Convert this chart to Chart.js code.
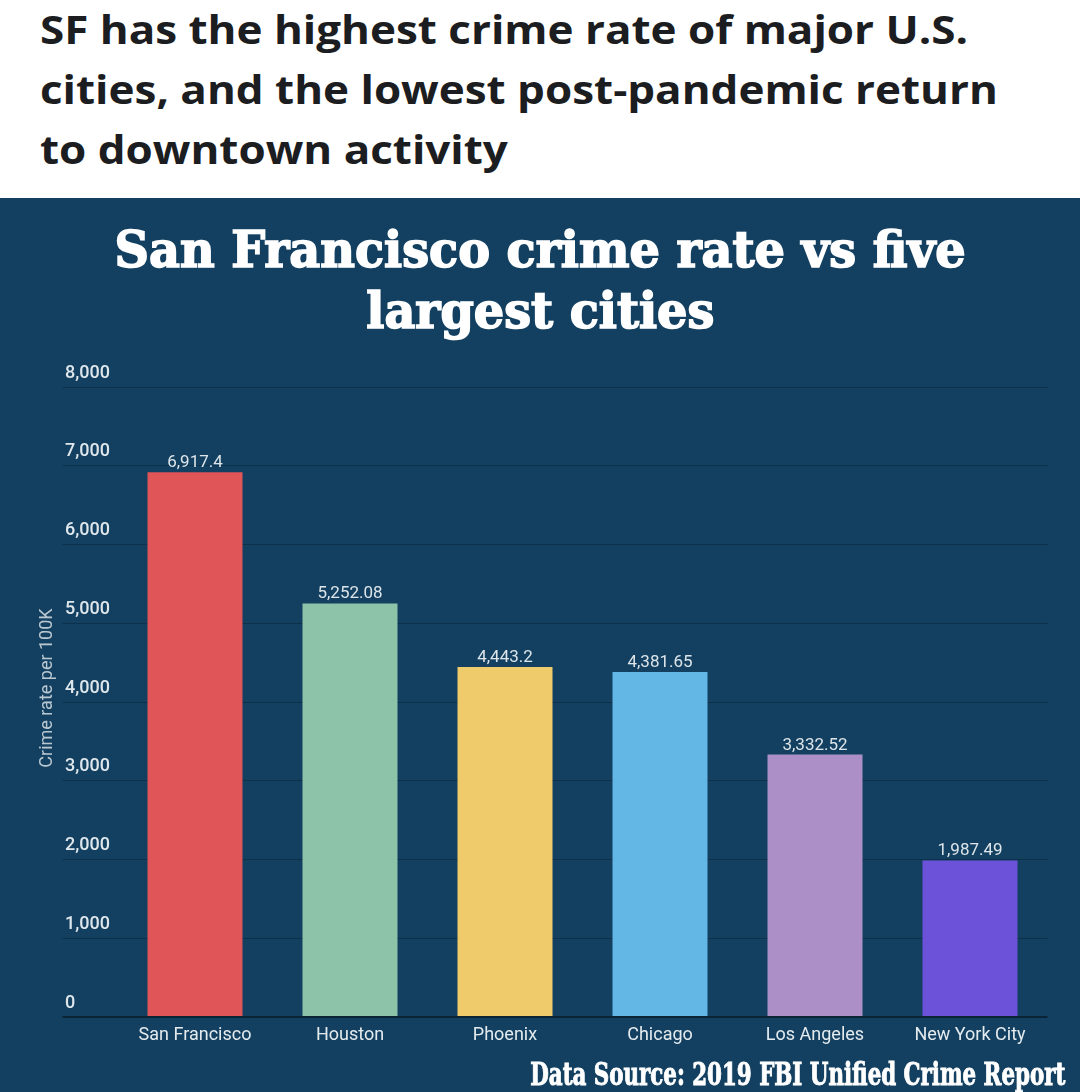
<!DOCTYPE html>
<html>
<head>
<meta charset="utf-8">
<title>San Francisco crime rate vs five largest cities</title>
<script src="https://cdn.jsdelivr.net/npm/chart.js@4.4.1/dist/chart.umd.min.js"></script>
<style>
  html, body { margin: 0; padding: 0; }
  body { width: 1080px; height: 1092px; position: relative; overflow: hidden; background: #fff; font-family: Roboto, sans-serif; }
  #headline { position: absolute; left: 40px; top: -1px; font: 700 40px/60px "Open Sans", sans-serif; color: #1c1d21; white-space: nowrap; transform-origin: left top; }
  #panel { position: absolute; left: 0; top: 198px; width: 1080px; height: 894px; background: #134060; }
  #title { position: absolute; left: 0; top: 219px; width: 1080px; text-align: center; font: bold 51px/61px "DejaVu Serif Condensed", serif; color: #fff; -webkit-text-stroke: 1.6px #fff; }
  #title span { display: inline-block; white-space: nowrap; transform-origin: center; }
  #chart-wrap { position: absolute; left: 0; top: 340px; width: 1080px; height: 720px; }
  #source { position: absolute; right: 15px; top: 1059px; font: bold 31px/31px "DejaVu Serif Condensed", serif; color: #fff; -webkit-text-stroke: 0.9px #fff; white-space: nowrap; transform-origin: right center; }
</style>
</head>
<body>
<div id="headline"><span id="h1">SF has the highest crime rate of major U.S.</span><br>cities, and the lowest post-pandemic return<br>to downtown activity</div>
<div id="panel"></div>
<div id="title"><span id="t1">San Francisco crime rate vs five</span><br><span id="t2">largest cities</span></div>
<div id="chart-wrap"><canvas id="crimeChart" width="1080" height="720"></canvas></div>
<div id="source">Data Source: 2019 FBI Unified Crime Report</div>

<script>
// --- Data ---
const cities = ['San Francisco', 'Houston', 'Phoenix', 'Chicago', 'Los Angeles', 'New York City'];
const crimeRates = [6917.4, 5252.08, 4443.2, 4381.65, 3332.52, 1987.49];
const barColors = ['#e05557', '#8dc3a8', '#f0cb6b', '#62b7e4', '#ab8fc6', '#6c52d9'];
const yMin = 0;
const yMax = 8000;
const yStep = 1000;
const yAxisTitle = 'Crime rate per 100K';

// --- Helpers ---
const fmt = v => v.toLocaleString('en-US', { maximumFractionDigits: 2 });

function squeeze(el, targetWidth) {
  const w = el.getBoundingClientRect().width;
  return targetWidth / w;
}

// fonts differ from the original, so squeeze text blocks to the widths seen
const headline = document.getElementById('headline');
headline.style.transform = `scaleX(${squeeze(document.getElementById('h1'), 928)})`;
const t1 = document.getElementById('t1');
const t2 = document.getElementById('t2');
const titleScale = squeeze(t1, 851);
t1.style.transform = `scaleX(${titleScale})`;
t2.style.transform = `scaleX(${titleScale})`;
const src = document.getElementById('source');
src.style.transform = `scaleX(${squeeze(src, 535)})`;

// --- Plugins ---
const valueLabels = {
  id: 'valueLabels',
  afterDatasetsDraw(chart) {
    const ctx = chart.ctx;
    const meta = chart.getDatasetMeta(0);
    ctx.save();
    ctx.font = '17px Roboto';
    ctx.fillStyle = '#dde5ea';
    ctx.textAlign = 'center';
    ctx.textBaseline = 'alphabetic';
    meta.data.forEach((bar, i) => {
      ctx.fillText(fmt(crimeRates[i]), bar.x, bar.y - 5);
    });
    ctx.restore();
  }
};

const sideTitle = {
  id: 'sideTitle',
  afterDraw(chart) {
    const ctx = chart.ctx;
    const area = chart.chartArea;
    ctx.save();
    ctx.translate(47, (area.top + area.bottom) / 2 - 14);
    ctx.rotate(-Math.PI / 2);
    ctx.font = '18px Roboto';
    ctx.fillStyle = '#b9c7d1';
    ctx.textAlign = 'center';
    ctx.textBaseline = 'middle';
    ctx.fillText(yAxisTitle, 0, 0);
    ctx.restore();
  }
};

// --- Chart ---
const gridColor = c => (c.tick && c.tick.value === 0 ? '#0a2335' : 'rgba(6,32,50,0.45)');
const gridWidth = c => (c.tick && c.tick.value === 0 ? 2 : 1);

Chart.defaults.font.family = 'Roboto, sans-serif';

new Chart(document.getElementById('crimeChart').getContext('2d'), {
  type: 'bar',
  data: {
    labels: cities,
    datasets: [{
      data: crimeRates,
      backgroundColor: barColors,
      borderWidth: 0,
      barPercentage: 0.613,
      categoryPercentage: 1
    }]
  },
  plugins: [valueLabels, sideTitle],
  options: {
    responsive: false,
    animation: false,
    layout: { padding: { left: 65, right: 32.5, top: 47, bottom: 0 } },
    plugins: {
      legend: { display: false },
      tooltip: { enabled: false }
    },
    scales: {
      x: {
        grid: { display: false },
        border: { display: false },
        ticks: { color: '#e4ebef', font: { size: 18 }, padding: 0, maxRotation: 0 },
        afterFit(scale) { scale.height = 43; }
      },
      y: {
        min: yMin,
        max: yMax,
        border: { display: false },
        grid: {
          color: gridColor,
          tickColor: gridColor,
          lineWidth: gridWidth,
          tickWidth: gridWidth,
          tickLength: 55,
          drawTicks: true
        },
        ticks: {
          stepSize: yStep,
          color: '#dfe7ec',
          font: { size: 18, weight: 500 },
          crossAlign: 'far',
          labelOffset: -14,
          callback: v => fmt(v)
        },
        afterFit(scale) { scale.width = 52.5; }
      }
    }
  }
});
</script>
</body>
</html>
